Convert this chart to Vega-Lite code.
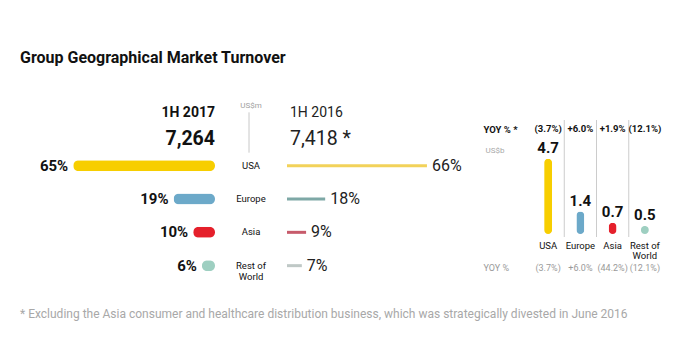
{
  "$schema": "https://vega.github.io/schema/vega-lite/v6.json",
  "background": "white",
  "padding": {"left": 20, "top": 50, "right": 10, "bottom": 10},
  "config": {"view": {"stroke": null}, "font": "Roboto", "mark": {"font": "Roboto"}},
  "title": {"text": "Group Geographical Market Turnover", "anchor": "start", "fontSize": 16, "fontWeight": "bold", "font": "Roboto", "color": "#111111", "offset": 33},
  "datasets": {
    "regions": [
      {"region": "USA", "label": "USA", "share2017": 0.65, "share2016": 0.66, "turnover": 4.7},
      {"region": "Europe", "label": "Europe", "share2017": 0.19, "share2016": 0.18, "turnover": 1.4},
      {"region": "Asia", "label": "Asia", "share2017": 0.10, "share2016": 0.09, "turnover": 0.7},
      {"region": "Rest of World", "label": "Rest of\nWorld", "share2017": 0.06, "share2016": 0.07, "turnover": 0.5}
    ],
    "yoy": [
      {"region": "USA", "metric": "YOY % *", "value": "(3.7%)"},
      {"region": "Europe", "metric": "YOY % *", "value": "+6.0%"},
      {"region": "Asia", "metric": "YOY % *", "value": "+1.9%"},
      {"region": "Rest of World", "metric": "YOY % *", "value": "(12.1%)"},
      {"region": "USA", "metric": "YOY %", "value": "(3.7%)"},
      {"region": "Europe", "metric": "YOY %", "value": "+6.0%"},
      {"region": "Asia", "metric": "YOY %", "value": "(44.2%)"},
      {"region": "Rest of World", "metric": "YOY %", "value": "(12.1%)"}
    ]
  },
  "vconcat": [
    {
      "title": {"text": "* Excluding the Asia consumer and healthcare distribution business, which was strategically divested in June 2016", "orient": "bottom", "anchor": "start", "fontSize": 12, "fontWeight": "normal", "font": "Roboto", "color": "#a8a8a8", "offset": 10},
      "spacing": 13,
      "center": true,
      "resolve": {"scale": {"x": "independent", "y": "independent", "color": "independent"}},
      "hconcat": [
        {
          "spacing": 0,
          "bounds": "flush",
          "resolve": {"scale": {"x": "independent", "y": "independent", "color": "independent"}},
          "hconcat": [
            {
              "width": 195,
              "height": 200,
              "layer": [
                {
                  "data": {"name": "regions"},
                  "mark": {"type": "bar", "size": 11, "cornerRadius": 5.5},
                  "encoding": {
                    "y": {"field": "region", "type": "nominal", "scale": {"type": "point", "domain": ["header", "USA", "Europe", "Asia", "Rest of World"], "padding": 1}, "axis": null},
                    "x": {"field": "share2017", "type": "quantitative", "scale": {"domain": [0, 0.894], "reverse": true, "nice": false}, "axis": null},
                    "color": {"field": "region", "type": "nominal", "scale": {"domain": ["USA", "Europe", "Asia", "Rest of World"], "range": ["#F7CE00", "#6CA9C9", "#E5202B", "#9ECFC1"]}, "legend": null}
                  }
                },
                {
                  "data": {"name": "regions"},
                  "mark": {"type": "text", "align": "right", "baseline": "middle", "dx": -5, "fontSize": 15, "fontWeight": "bold", "color": "#111111"},
                  "encoding": {
                    "y": {"field": "region", "type": "nominal"},
                    "x": {"field": "share2017", "type": "quantitative"},
                    "text": {"field": "share2017", "type": "quantitative", "format": ".0%"}
                  }
                },
                {
                  "data": {"values": [{"period": "1H 2017", "total": "7,264"}]},
                  "mark": {"type": "text", "align": "right", "baseline": "middle", "dy": -19, "fontSize": 14, "fontWeight": "bold", "color": "#111111"},
                  "encoding": {"y": {"datum": "header"}, "x": {"datum": 0}, "text": {"field": "period"}}
                },
                {
                  "data": {"values": [{"period": "1H 2017", "total": "7,264"}]},
                  "mark": {"type": "text", "align": "right", "baseline": "middle", "dy": 6.5, "fontSize": 19.5, "fontWeight": "bold", "color": "#111111"},
                  "encoding": {"y": {"datum": "header"}, "x": {"datum": 0}, "text": {"field": "total"}}
                }
              ]
            },
            {
              "width": 72,
              "height": 200,
              "layer": [
                {
                  "data": {"name": "regions"},
                  "mark": {"type": "text", "fontSize": 9.5, "color": "#111111", "lineBreak": "\n", "lineHeight": 11},
                  "encoding": {
                    "y": {"field": "region", "type": "nominal", "scale": {"type": "point", "domain": ["header", "USA", "Europe", "Asia", "Rest of World"], "padding": 1}, "axis": null},
                    "text": {"field": "label"}
                  }
                },
                {
                  "data": {"values": [{"unit": "US$m"}]},
                  "mark": {"type": "rule", "color": "#c8c8c8", "strokeWidth": 1, "yOffset": -20, "y2Offset": -13, "xOffset": -2},
                  "encoding": {"y": {"datum": "header"}, "y2": {"datum": "USA"}}
                },
                {
                  "data": {"values": [{"unit": "US$m"}]},
                  "mark": {"type": "text", "dy": -26, "fontSize": 8, "color": "#a0a0a0"},
                  "encoding": {"y": {"datum": "header"}, "text": {"field": "unit"}}
                }
              ]
            },
            {
              "width": 183,
              "height": 200,
              "layer": [
                {
                  "data": {"name": "regions"},
                  "mark": {"type": "bar", "size": 3},
                  "encoding": {
                    "y": {"field": "region", "type": "nominal", "scale": {"type": "point", "domain": ["header", "USA", "Europe", "Asia", "Rest of World"], "padding": 1}, "axis": null},
                    "x": {"field": "share2016", "type": "quantitative", "scale": {"domain": [0, 0.863], "nice": false}, "axis": null},
                    "color": {"field": "region", "type": "nominal", "scale": {"domain": ["USA", "Europe", "Asia", "Rest of World"], "range": ["#F2D25A", "#7EA8A6", "#C75B6B", "#BFC8C6"]}, "legend": null}
                  }
                },
                {
                  "data": {"name": "regions"},
                  "mark": {"type": "text", "align": "left", "baseline": "middle", "dx": 5, "fontSize": 16, "color": "#222222"},
                  "encoding": {
                    "y": {"field": "region", "type": "nominal"},
                    "x": {"field": "share2016", "type": "quantitative"},
                    "text": {"field": "share2016", "type": "quantitative", "format": ".0%"}
                  }
                },
                {
                  "data": {"values": [{"period": "1H 2016", "total": "7,418 *"}]},
                  "mark": {"type": "text", "align": "left", "baseline": "middle", "dx": 3, "dy": -19, "fontSize": 14, "color": "#222222"},
                  "encoding": {"y": {"datum": "header"}, "x": {"datum": 0}, "text": {"field": "period"}}
                },
                {
                  "data": {"values": [{"period": "1H 2016", "total": "7,418 *"}]},
                  "mark": {"type": "text", "align": "left", "baseline": "middle", "dx": 3, "dy": 6.5, "fontSize": 19.5, "color": "#222222"},
                  "encoding": {"y": {"datum": "header"}, "x": {"datum": 0}, "text": {"field": "total"}}
                }
              ]
            }
          ]
        },
        {
          "spacing": 0,
          "bounds": "flush",
          "resolve": {"scale": {"x": "independent", "y": "independent", "color": "independent"}},
          "vconcat": [
            {
              "width": 129,
              "height": 18,
              "layer": [
                {
                  "data": {"name": "regions"},
                  "transform": [{"filter": "datum.region != 'Rest of World'"}],
                  "mark": {"type": "rule", "color": "#cccccc", "strokeWidth": 1},
                  "encoding": {"x": {"field": "region", "type": "nominal", "bandPosition": 1, "scale": {"type": "band", "domain": ["USA", "Europe", "Asia", "Rest of World"], "paddingInner": 0, "paddingOuter": 0}, "axis": null}}
                },
                {
                  "data": {"name": "yoy"},
                  "transform": [{"filter": "datum.metric == 'YOY % *'"}],
                  "mark": {"type": "text", "fontSize": 9.5, "fontWeight": "bold", "color": "#111111"},
                  "encoding": {
                    "x": {"field": "region", "type": "nominal"},
                    "y": {"field": "metric", "type": "nominal", "axis": {"title": null, "domain": false, "ticks": false, "tickSize": 0, "labelAlign": "left", "labelPadding": 49, "labelFontSize": 9.5, "labelFontWeight": "bold", "labelColor": "#111111", "labelFont": "Roboto"}},
                    "text": {"field": "value"}
                  }
                }
              ]
            },
            {
              "width": 129,
              "height": 99,
              "layer": [
                {
                  "data": {"name": "regions"},
                  "transform": [{"filter": "datum.region != 'Rest of World'"}],
                  "mark": {"type": "rule", "color": "#cccccc", "strokeWidth": 1},
                  "encoding": {"x": {"field": "region", "type": "nominal", "bandPosition": 1, "scale": {"type": "band", "domain": ["USA", "Europe", "Asia", "Rest of World"], "paddingInner": 0, "paddingOuter": 0}, "axis": {"orient": "bottom", "title": null, "domain": false, "ticks": false, "grid": false, "labelPadding": 3, "labelFontSize": 9.5, "labelColor": "#111111", "labelAngle": 0, "labelBaseline": "top", "labelLineHeight": 10, "labelFont": "Roboto", "labelExpr": "datum.label == 'Rest of World' ? ['Rest of', 'World'] : datum.label"}}}
                },
                {
                  "data": {"name": "regions"},
                  "mark": {"type": "bar", "size": 8, "cornerRadius": 4},
                  "encoding": {
                    "x": {"field": "region", "type": "nominal"},
                    "y": {"field": "turnover", "type": "quantitative", "scale": {"domain": [-0.19, 6.0], "nice": false}, "axis": {"title": "US$b", "titleAngle": 0, "titleAlign": "left", "titleBaseline": "middle", "titleX": -47, "titleY": 12, "labels": false, "ticks": false, "domain": false, "grid": false, "titleFontSize": 8, "titleFontWeight": "normal", "titleColor": "#a8a8a8", "titleFont": "Roboto"}},
                    "color": {"field": "region", "type": "nominal", "scale": {"domain": ["USA", "Europe", "Asia", "Rest of World"], "range": ["#F7CE00", "#6CA9C9", "#E5202B", "#9ECFC1"]}, "legend": null}
                  }
                },
                {
                  "data": {"name": "regions"},
                  "mark": {"type": "text", "baseline": "bottom", "dy": -3, "fontSize": 15, "fontWeight": "bold", "color": "#111111"},
                  "encoding": {
                    "x": {"field": "region", "type": "nominal"},
                    "y": {"field": "turnover", "type": "quantitative"},
                    "text": {"field": "turnover", "type": "quantitative", "format": ".1f"}
                  }
                }
              ]
            },
            {
              "width": 129,
              "height": 41,
              "data": {"name": "yoy"},
              "transform": [{"filter": "datum.metric == 'YOY %'"}],
              "mark": {"type": "text", "fontSize": 9, "color": "#9a9a9a"},
              "encoding": {
                "x": {"field": "region", "type": "nominal", "scale": {"type": "band", "domain": ["USA", "Europe", "Asia", "Rest of World"], "paddingInner": 0, "paddingOuter": 0}, "axis": null},
                "y": {"field": "metric", "type": "nominal", "scale": {"type": "band", "paddingInner": 0, "paddingOuter": 0.525, "align": 1}, "axis": {"title": null, "domain": false, "ticks": false, "tickSize": 0, "labelAlign": "left", "labelPadding": 49, "labelFontSize": 9, "labelColor": "#9a9a9a", "labelFont": "Roboto"}},
                "text": {"field": "value"}
              }
            }
          ]
        }
      ]
    }
  ]
}
